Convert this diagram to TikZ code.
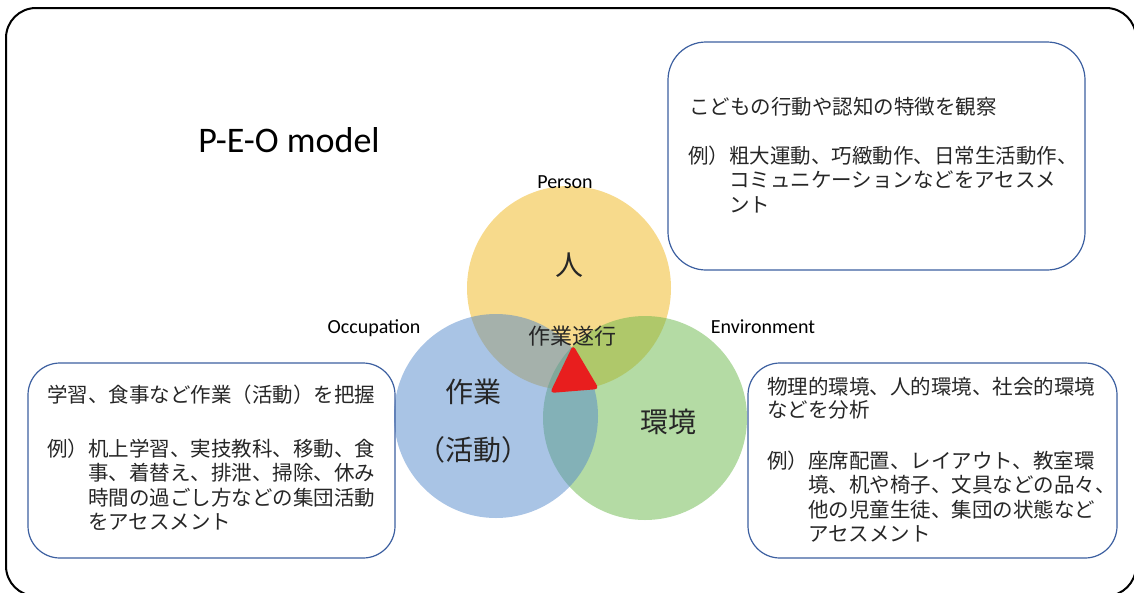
\documentclass[tikz,border=0pt]{standalone}
\usepackage{fontspec}
\setmainfont{Carlito}
\newfontfamily\jp{Noto Sans CJK JP}
\definecolor{pyel}{RGB}{239,181,25}
\definecolor{ogrn}{RGB}{105,183,73}
\definecolor{oblu}{RGB}{83,137,203}
\definecolor{boxblue}{RGB}{60,95,160}
\definecolor{txt}{RGB}{38,38,38}
\definecolor{tri}{RGB}{232,30,30}
\begin{document}
\begin{tikzpicture}[x=1pt,y=-1pt,
  circ/.style={circle, minimum size=204pt, inner sep=0pt, fill opacity=0.5},
  box/.style={draw=boxblue, line width=1.2pt, inner sep=0pt},
  jtxt/.style={font=\jp\fontsize{20.5}{24.5}\selectfont, text=txt, align=left, anchor=west, inner sep=0pt},
  lbl/.style={font=\fontsize{20}{22}\selectfont, text=black, inner sep=0pt, anchor=base},
  big/.style={font=\jp\fontsize{28}{34}\selectfont, text=txt, inner sep=0pt}]
\useasboundingbox (0,0) rectangle (1134,592);
% outer frame
\draw[line width=2pt, rounded corners=30pt] (6,8) rectangle (1136,596);
% circles
\node[circ, fill=pyel] (P) at (569,288) {};
\node[circ, fill=ogrn] (E) at (645,418) {};
\node[circ, fill=oblu] (O) at (496,416) {};
% red triangle
\fill[tri, rounded corners=4pt] (573,345) -- (599,389) -- (550,393) -- cycle;
% circle texts
\node[big] (jin) at (569,265) {人};
\node[big] (sagyo) at (473,392) {作業};
\node[big] (katsudo) at (473,450) {（活動）};
\node[big] (kankyo) at (668,422) {環境};
\node[big, font=\jp\fontsize{22}{26}\selectfont] (suikou) at (572,336) {作業遂行};
% labels
\node[lbl] (lp) at (565,188) {Person};
\node[lbl] (lo) at (374,333) {Occupation};
\node[lbl] (le) at (763,333) {Environment};
\node[lbl, font=\fontsize{36}{40}\selectfont] (title) at (289,152) {P-E-O model};
% boxes
\node[box, rounded corners=38pt, minimum width=417pt, minimum height=228pt] (pbox) at (876.5,156) {};
\node[box, rounded corners=32pt, minimum width=367pt, minimum height=195pt] (obox) at (211.5,460.5) {};
\node[box, rounded corners=32pt, minimum width=369pt, minimum height=195pt] (ebox) at (932.5,460.5) {};
% box texts
\node[jtxt] (p1) at (689,107) {こどもの行動や認知の特徴を観察};
\node[jtxt] (p2) at (688,179.5) {例）粗大運動、巧緻動作、日常生活動作、\\\hspace*{2em}コミュニケーションなどをアセスメ\\\hspace*{2em}ント};
\node[jtxt] (o1) at (47,395) {学習、食事など作業（活動）を把握};
\node[jtxt] (o2) at (47,484.5) {例）机上学習、実技教科、移動、食\\\hspace*{2em}事、着替え、排泄、掃除、休み\\\hspace*{2em}時間の過ごし方などの集団活動\\\hspace*{2em}をアセスメント};
\node[jtxt, font=\jp\fontsize{20.5}{23}\selectfont] (e1) at (767,398.5) {物理的環境、人的環境、社会的環境\\などを分析};
\node[jtxt] (e2) at (767,496.5) {例）座席配置、レイアウト、教室環\\\hspace*{2em}境、机や椅子、文具などの品々、\\\hspace*{2em}他の児童生徒、集団の状態など\\\hspace*{2em}アセスメント};
\end{tikzpicture}
\end{document}
